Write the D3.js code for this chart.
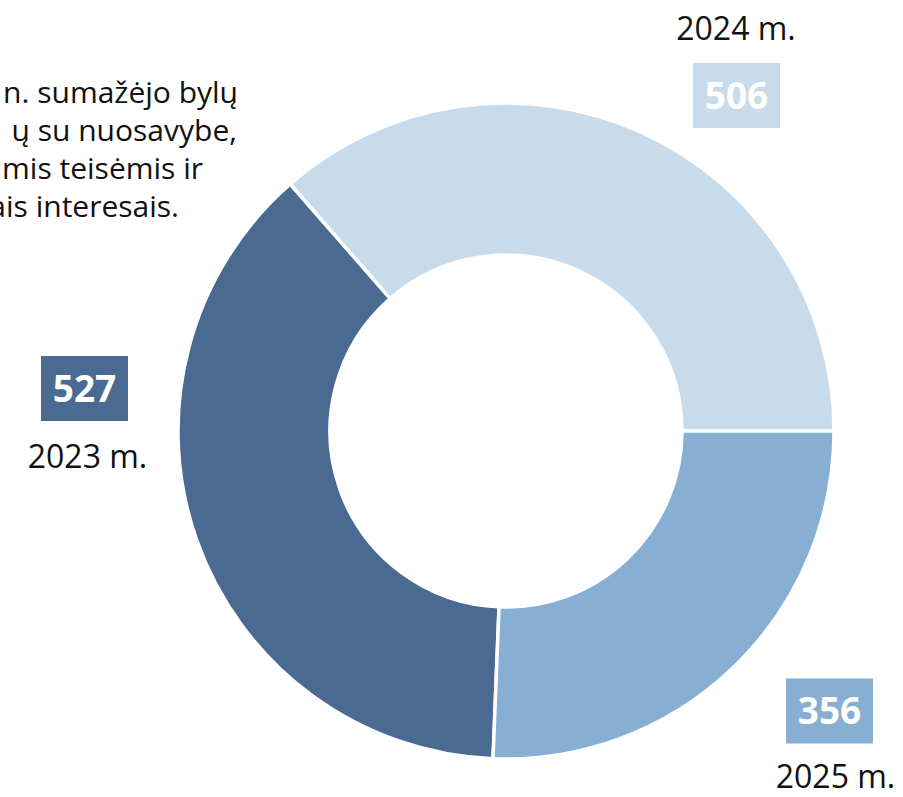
<!DOCTYPE html>
<html>
<head>
<meta charset="utf-8">
<script src="https://cdn.jsdelivr.net/npm/d3@7"></script>
<style>
  html, body { margin: 0; padding: 0; background: #fff; overflow: hidden; }
  svg { display: block; font-family: 'Open Sans', sans-serif; }
</style>
</head>
<body>
<svg id="chart"></svg>
<script>
// chart data
const years = ['2023 m.', '2024 m.', '2025 m.'];
const values = [527, 506, 356];
const colors = ['#4a6a92', '#c8dbea', '#86afd3'];

// visible (cropped) part of the note text
const noteLines = [
  'n. sumažėjo bylų',
  'ų su nuosavybe,',
  'mis teisėmis ir',
  'ais interesais.'
];

const width = 903;
const height = 797;
const cx = 506, cy = 431;
const outerR = 328, innerR = 176;

// label layout: box centre and year text baseline
const labelPos = [
  { bx: 84.5, by: 388.5, tx: 87.5, ty: 468 },
  { bx: 736.5, by: 95.5, tx: 736, ty: 40 },
  { bx: 829.5, by: 711, tx: 835.5, ty: 788 }
];
const boxW = 87, boxH = 65;

const svg = d3.select('#chart').
  attr('width', width).
  attr('height', height);

const total = d3.sum(values);
// last slice ends at 3 o'clock, first one starts right after it
const start = Math.PI / 2 + 2 * Math.PI * values[2] / total;

const pie = d3.pie().
  sort(null).
  startAngle(start).
  endAngle(start + 2 * Math.PI);

const arc = d3.arc().
  innerRadius(innerR).
  outerRadius(outerR);

const data = years.map((y, i) => ({ year: y, value: values[i], color: colors[i] }));

svg.append('g').
  attr('transform', `translate(${cx}, ${cy})`).
  selectAll('path').
  data(pie.value(d => d.value)(data)).
  enter().append('path').
  attr('d', arc).
  attr('fill', d => d.data.color).
  attr('stroke', '#fff').
  attr('stroke-width', 3.5);

// note text on the left, cut by the page edge
svg.append('g').
  selectAll('text').
  data(noteLines).
  enter().append('text').
  attr('x', (d, i) => [238, 237, 203, 179][i]).
  attr('y', (d, i) => 103 + i * 38).
  attr('text-anchor', 'end').
  attr('font-size', 30).
  attr('fill', '#111').
  text(d => d);

// value boxes and year labels
const labels = svg.append('g').
  selectAll('g').
  data(data).
  enter().append('g');

labels.append('rect').
  attr('x', (d, i) => labelPos[i].bx - boxW / 2).
  attr('y', (d, i) => labelPos[i].by - boxH / 2).
  attr('width', boxW).
  attr('height', boxH).
  attr('fill', d => d.color);

labels.append('text').
  attr('x', (d, i) => labelPos[i].bx).
  attr('y', (d, i) => labelPos[i].by + 13).
  attr('text-anchor', 'middle').
  attr('font-size', 37).
  attr('font-weight', 700).
  attr('fill', '#fff').
  text(d => d.value);

labels.append('text').
  attr('x', (d, i) => labelPos[i].tx).
  attr('y', (d, i) => labelPos[i].ty).
  attr('text-anchor', 'middle').
  attr('font-size', 32).
  attr('fill', '#111').
  text(d => d.year);
</script>
</body>
</html>
